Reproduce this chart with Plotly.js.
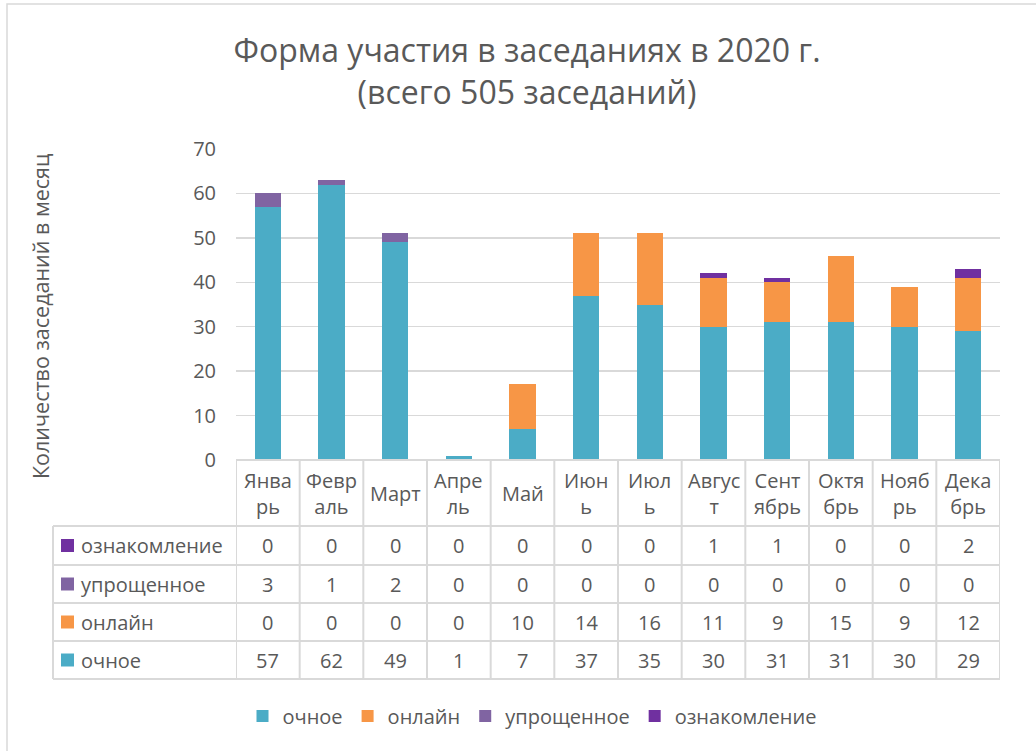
<!DOCTYPE html>
<html>
<head>
<meta charset="utf-8">
<script src="https://cdn.plot.ly/plotly-3.0.1.min.js"></script>
<style>
html,body{margin:0;padding:0;background:#fff;}
#chart{width:1036px;height:751px;}
</style>
</head>
<body>
<div id="chart"></div>
<script>
// ---- data ----
const months = ["Январь","Февраль","Март","Апрель","Май","Июнь","Июль","Август","Сентябрь","Октябрь","Ноябрь","Декабрь"];
const monthLabels = ["Янва<br>рь","Февр<br>аль","Март","Апре<br>ль","Май","Июн<br>ь","Июл<br>ь","Авгус<br>т","Сент<br>ябрь","Октя<br>брь","Нояб<br>рь","Дека<br>брь"];
const seriesNames = ["очное","онлайн","упрощенное","ознакомление"];
const ochnoe = [57,62,49,1,7,37,35,30,31,31,30,29];
const onlain = [0,0,0,0,10,14,16,11,9,15,9,12];
const uproshchennoe = [3,1,2,0,0,0,0,0,0,0,0,0];
const oznakomlenie = [0,0,0,0,0,0,0,1,1,0,0,2];
const seriesValues = [ochnoe, onlain, uproshchennoe, oznakomlenie];
const seriesColors = ["#4BACC6","#F79646","#8064A2","#7030A0"];
const yTicks = [0,10,20,30,40,50,60,70];
const titleText = "Форма участия в заседаниях в 2020 г.<br>(всего 505 заседаний)";
const yTitle = "Количество заседаний в месяц";

// ---- layout geometry (pixels) ----
const W = 1036, H = 751;
const plotL = 236, plotR = 1000, plotT = 149, plotB = 460;
const plotH = plotB - plotT, plotW = plotR - plotL;
const py = p => (plotB - p) / plotH;          // pixel y -> paper y
const px = p => (p - plotL) / plotW;          // pixel x -> paper x
const rowEdges = [460, 526, 565, 603, 641, 679];
const tableLeft = 53;
const textColor = "#595959";
const gridColor = "#d9d9d9";
const FONT = "Open Sans, Calibri, sans-serif";
const TS = 20;

const xIdx = months.map((m, i) => i);

const traces = seriesNames.map((name, s) => ({
  type: "bar",
  name: name,
  x: xIdx,
  y: seriesValues[s],
  marker: {color: seriesColors[s], line: {width: 0}},
  hoverinfo: "y+name"
}));

const shapes = [];
const annotations = [];

// outer chart border
shapes.push({type:"rect", xref:"paper", yref:"paper", x0:px(7), x1:px(1040), y0:py(4), y1:py(760),
  line:{color:gridColor, width:1.5}, fillcolor:"rgba(0,0,0,0)", layer:"below"});

// horizontal table lines
rowEdges.forEach((r, i) => {
  shapes.push({type:"line", xref:"paper", yref:"paper",
    x0: i === 0 ? px(plotL) : px(tableLeft), x1: px(plotR), y0: py(r), y1: py(r),
    line:{color:gridColor, width:2}});
});
// vertical table lines at category boundaries
for (let k = 0; k <= months.length; k++) {
  shapes.push({type:"line", xref:"x", yref:"paper",
    x0: k - 0.5, x1: k - 0.5, y0: py(rowEdges[0]), y1: py(rowEdges[rowEdges.length-1]),
    line:{color:gridColor, width:2}});
}
// left edge of row-label column
shapes.push({type:"line", xref:"paper", yref:"paper", x0:px(tableLeft), x1:px(tableLeft),
  y0:py(rowEdges[1]), y1:py(rowEdges[rowEdges.length-1]), line:{color:gridColor, width:2}});

// header month labels
monthLabels.forEach((lab, i) => {
  annotations.push({xref:"x", yref:"paper", x:i, y:py((rowEdges[0]+rowEdges[1])/2),
    text: lab, showarrow:false, xanchor:"center", yanchor:"middle",
    font:{family:FONT, size:TS, color:textColor}});
});

// table rows: reverse order of series (ознакомление on top)
const rowOrder = [3,2,1,0];
rowOrder.forEach((s, r) => {
  const yc = (rowEdges[r+1] + rowEdges[r+2]) / 2;
  shapes.push({type:"rect", xref:"paper", yref:"paper",
    x0:px(61), x1:px(74), y0:py(yc+6.5), y1:py(yc-6.5),
    fillcolor:seriesColors[s], line:{width:0}});
  annotations.push({xref:"paper", yref:"paper", x:px(79), y:py(yc),
    text: seriesNames[s], showarrow:false, xanchor:"left", yanchor:"middle",
    font:{family:FONT, size:TS, color:textColor}});
  seriesValues[s].forEach((v, i) => {
    annotations.push({xref:"x", yref:"paper", x:i, y:py(yc),
      text: String(v), showarrow:false, xanchor:"center", yanchor:"middle",
      font:{family:FONT, size:TS, color:textColor}});
  });
});

// y-axis title
annotations.push({xref:"paper", yref:"paper", x:px(40), y:py(316), text:yTitle,
  textangle:-90, showarrow:false, xanchor:"center", yanchor:"middle",
  font:{family:FONT, size:21.5, color:textColor}});

const layout = {
  width: W, height: H,
  paper_bgcolor:"#fff", plot_bgcolor:"#fff",
  margin:{l:plotL, r:W-plotR, t:plotT, b:H-plotB, pad:0},
  barmode:"stack",
  bargap:0.59,
  title:{text:titleText, x:527/W, xanchor:"center", y:1-62/H, yanchor:"middle",
    font:{family:FONT, size:32, color:textColor}},
  xaxis:{range:[-0.5, months.length-0.5], showticklabels:false, showgrid:false,
    zeroline:false, showline:false, ticks:"", fixedrange:true},
  yaxis:{range:[0,70], tickvals:yTicks, ticktext:yTicks.map(String),
    showgrid:true, gridcolor:gridColor, gridwidth:1.5, zeroline:false, showline:false,
    ticks:"", ticklabelstandoff:19,
    tickfont:{family:FONT, size:TS, color:textColor}, fixedrange:true},
  showlegend:true,
  legend:{orientation:"h", x:532/W, xref:"container", xanchor:"center",
    y:1-716/H, yref:"container", yanchor:"middle",
    font:{family:FONT, size:TS, color:textColor}, traceorder:"normal",
    itemwidth:30, tracegroupgap:0},
  shapes: shapes,
  annotations: annotations
};

Plotly.newPlot("chart", traces, layout, {displayModeBar:false, staticPlot:true});
</script>
</body>
</html>
